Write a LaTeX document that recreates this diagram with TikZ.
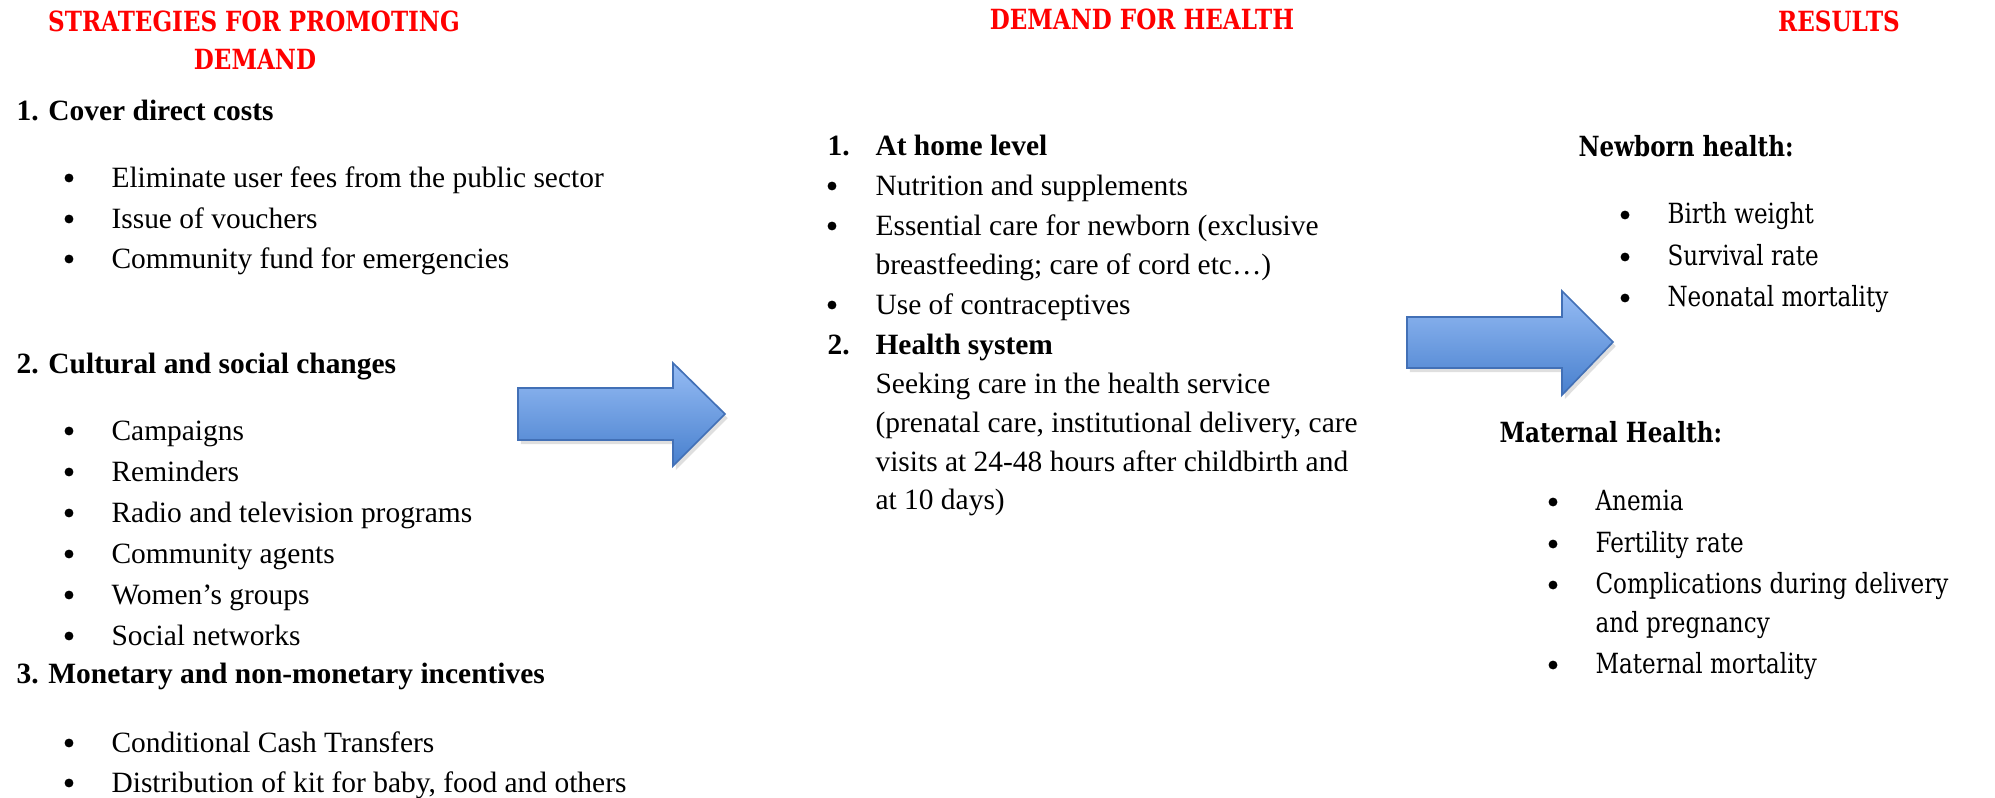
\documentclass[tikz,border=0pt]{standalone}
\usepackage{fontspec}
\setmainfont{Liberation Serif}
\newfontfamily\camb{DejaVu Serif}[FakeStretch=0.83]
\usepackage{tikz}
\usetikzlibrary{shadows,positioning}
\definecolor{arrowtop}{RGB}{150,188,244}
\definecolor{arrowbot}{RGB}{72,128,206}
\definecolor{arrowline}{RGB}{66,112,182}
\definecolor{headred}{RGB}{255,0,0}
\tikzset{
  txt/.style={anchor=base west,inner sep=0pt,font=\fontsize{10.6}{12}\selectfont},
  hd/.style={txt,font=\fontsize{10.6}{12}\selectfont\bfseries},
  ctxt/.style={anchor=base west,inner sep=0pt,font=\fontsize{10}{12}\selectfont\camb},
  chd/.style={ctxt,font=\fontsize{10}{12}\selectfont\camb\bfseries},
  title/.style={anchor=base,inner sep=0pt,text=headred,font=\fontsize{10}{12}\selectfont\camb\bfseries},
  dot/.style={circle,fill=black,inner sep=0pt,minimum size=3.2pt},
  blockarrow/.style={draw=arrowline,line width=0.6pt,top color=arrowtop,bottom color=arrowbot,
    drop shadow={shadow xshift=1pt,shadow yshift=-1.5pt,opacity=0.25}},
}
\begin{document}
\begin{tikzpicture}[x=0.36pt,y=-0.36pt]
\useasboundingbox (0,0) rectangle (1995,797);
% titles
\node[title] (t1a) at (254,31) {STRATEGIES FOR PROMOTING};
\node[title] (t1b) at (255,69) {DEMAND};
\node[title] (t2) at (1142,29) {DEMAND FOR HEALTH};
\node[title] (t3) at (1839,31) {RESULTS};
% strategies
\node[hd] (s1) at (16,120) {1. Cover direct costs};
\node[dot] (b11) at (69,178) {};
\node[txt] (s11) at (111,187) {Eliminate user fees from the public sector};
\node[dot] (b12) at (69,219) {};
\node[txt] (s12) at (111,228) {Issue of vouchers};
\node[dot] (b13) at (69,259) {};
\node[txt] (s13) at (111,268) {Community fund for emergencies};
\node[hd] (s2) at (16,373) {2. Cultural and social changes};
\node[dot] (b21) at (69,431) {};
\node[txt] (s21) at (111,440) {Campaigns};
\node[dot] (b22) at (69,472) {};
\node[txt] (s22) at (111,481) {Reminders};
\node[dot] (b23) at (69,513) {};
\node[txt] (s23) at (111,522) {Radio and television programs};
\node[dot] (b24) at (69,554) {};
\node[txt] (s24) at (111,563) {Community agents};
\node[dot] (b25) at (69,595) {};
\node[txt] (s25) at (111,604) {Women’s groups};
\node[dot] (b26) at (69,636) {};
\node[txt] (s26) at (111,645) {Social networks};
\node[hd] (s3) at (16,683) {3. Monetary and non-monetary incentives};
\node[dot] (b31) at (69,743) {};
\node[txt] (s31) at (111,752) {Conditional Cash Transfers};
\node[dot] (b32) at (69,783) {};
\node[txt] (s32) at (111,792) {Distribution of kit for baby, food and others};
% demand
\node[hd] (d1n) at (827,155) {1.};
\node[hd] (d1) at (875,155) {At home level};
\node[dot] (c11) at (832,186) {};
\node[txt] (d11) at (875,195) {Nutrition and supplements};
\node[dot] (c12) at (832,226) {};
\node[txt] (d12) at (875,235) {Essential care for newborn (exclusive};
\node[txt] (d12b) at (875,274) {breastfeeding; care of cord etc…)};
\node[dot] (c13) at (832,305) {};
\node[txt] (d13) at (875,314) {Use of contraceptives};
\node[hd] (d2n) at (827,354) {2.};
\node[hd] (d2) at (875,354) {Health system};
\node[txt] (d21) at (875,393) {Seeking care in the health service};
\node[txt] (d22) at (875,432) {(prenatal care, institutional delivery, care};
\node[txt] (d23) at (875,471) {visits at 24-48 hours after childbirth and};
\node[txt] (d24) at (875,509) {at 10 days)};
% results
\node[chd] (r1) at (1578,156) {Newborn health:};
\node[dot] (e11) at (1625,215) {};
\node[ctxt] (r11) at (1667,223) {Birth weight};
\node[dot] (e12) at (1625,257) {};
\node[ctxt] (r12) at (1667,265) {Survival rate};
\node[dot] (e13) at (1625,298) {};
\node[ctxt] (r13) at (1667,306) {Neonatal mortality};
\node[chd] (r2) at (1499,442) {Maternal Health:};
\node[dot] (e21) at (1553,502) {};
\node[ctxt] (r21) at (1595,510) {Anemia};
\node[dot] (e22) at (1553,544) {};
\node[ctxt] (r22) at (1595,552) {Fertility rate};
\node[dot] (e23) at (1553,585) {};
\node[ctxt] (r23) at (1595,593) {Complications during delivery};
\node[ctxt] (r23b) at (1595,632) {and pregnancy};
\node[dot] (e24) at (1553,665) {};
\node[ctxt] (r24) at (1595,673) {Maternal mortality};
% block arrows
\path[blockarrow] (518,388) -- (673,388) -- (673,363) -- (725,414) -- (673,466) -- (673,440) -- (518,440) -- cycle;
\path[blockarrow] (1407,317) -- (1562,317) -- (1562,291) -- (1613,342) -- (1562,395) -- (1562,368) -- (1407,368) -- cycle;
\end{tikzpicture}
\end{document}
